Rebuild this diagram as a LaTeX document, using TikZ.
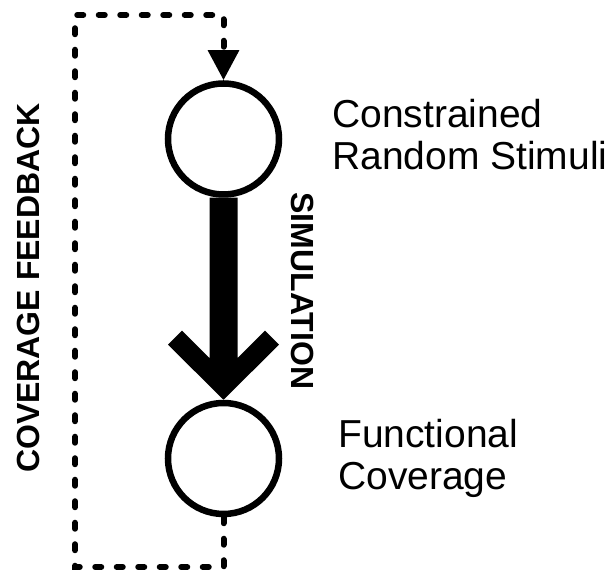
\documentclass[tikz,border=0pt]{standalone}
\usepackage{fontspec}
\setmainfont{Liberation Sans}
\usetikzlibrary{arrows.meta,calc}
\begin{document}
\begin{tikzpicture}[x=1pt,y=1pt,
  state/.style={circle,draw=black,line width=6.5pt,fill=white,minimum size=111pt,inner sep=0pt},
  fb/.style={line width=6pt,line cap=round,dash pattern=on 6pt off 15.5pt},
  lbl/.style={font=\fontsize{39}{42}\selectfont,align=left,inner sep=0pt,anchor=base west},
  side/.style={font=\bfseries\fontsize{32}{36}\selectfont,inner sep=0pt}]
\useasboundingbox[fill=white] (0,0) rectangle (611,572);
\node[state] (top) at (223.5,433) {};
\node[state] (bot) at (223.5,113.5) {};
% feedback loop
\coordinate (c1) at (75,5);
\coordinate (c2) at (223.5,557);
\draw[fb,-{Triangle[length=30pt,width=30pt,line cap=butt]}] (bot.south) |- (c1) |- (c2) -- (top.north);
% simulation arrow
\fill ($(top.south)+(-14,0)$) -- ($(bot.north)+(-14,41.5)$) -- ($(bot.north)+(-41.5,69)$)
  -- ($(bot.north)+(-55.5,55)$) -- (bot.north) -- ($(bot.north)+(55.5,55)$)
  -- ($(bot.north)+(41.5,69)$) -- ($(bot.north)+(14,41.5)$) -- ($(top.south)+(14,0)$) -- cycle;
\node[lbl] (t1) at (332,402) {Constrained\\Random Stimuli};
\node[lbl] (t2) at (338,82) {Functional\\Coverage};
\node[side,rotate=-90] (sim) at (302.5,281) {SIMULATION};
\node[side,rotate=90] (cov) at (28,284) {COVERAGE FEEDBACK};
\end{tikzpicture}
\end{document}
